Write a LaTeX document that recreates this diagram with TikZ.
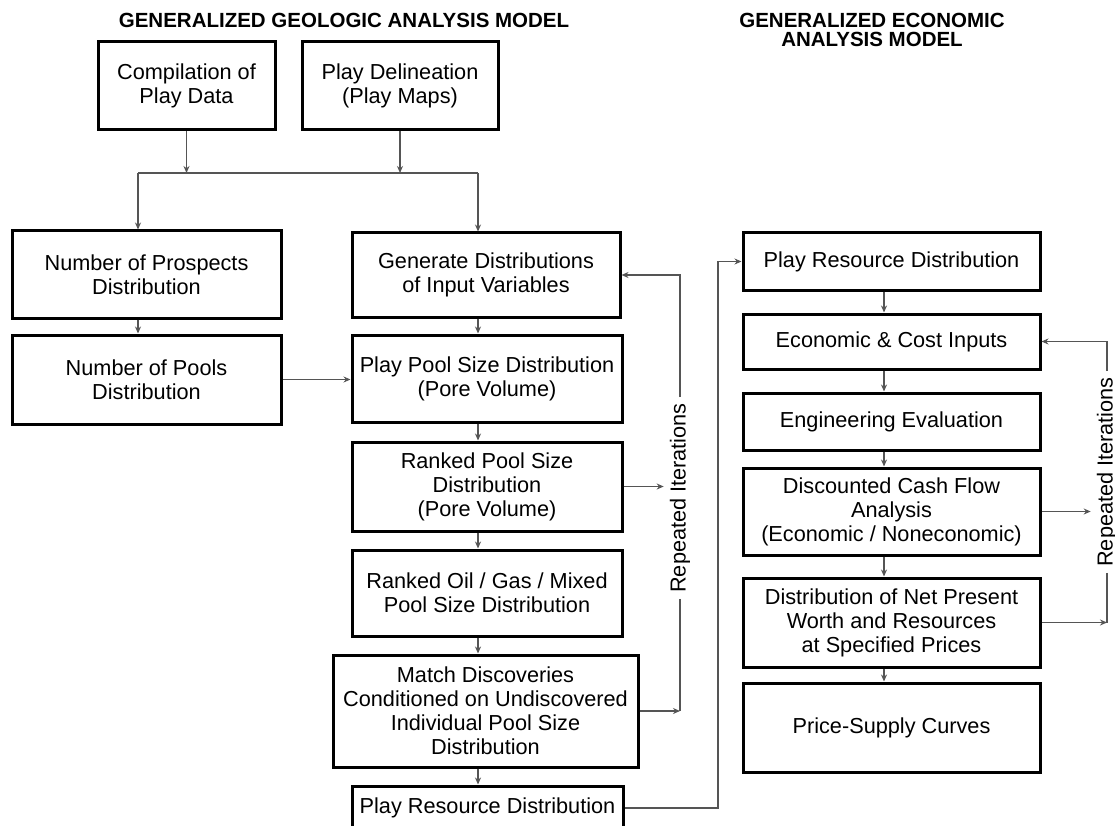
\documentclass[tikz,border=0pt]{standalone}
\usepackage{fontspec}
\setmainfont{Liberation Sans}
\usetikzlibrary{arrows.meta}
\definecolor{linkgray}{HTML}{555555}
\begin{document}
\begin{tikzpicture}[x=1pt, y=-1pt, >={Stealth[length=7pt,width=6pt]},
  box/.style={draw, rectangle, line width=3pt, align=center, inner sep=0pt, font=\fontsize{21.7}{24}\selectfont},
  head/.style={align=center, font=\fontsize{20.5}{19}\selectfont\bfseries},
  link/.style={draw=linkgray, line width=1.4pt},
  iterlabel/.style={rotate=90, inner xsep=6pt, inner ysep=2pt, font=\fontsize{21.7}{24}\selectfont}]
\useasboundingbox (0,0) rectangle (1115,826);

\node[head] (geo) at (344,20) {GENERALIZED GEOLOGIC ANALYSIS MODEL};
\node[head] (eco) at (872,30) {GENERALIZED ECONOMIC\\ANALYSIS MODEL};

\node[box, minimum width=177pt, minimum height=88pt] (comp) at (186.5,85.5) {Compilation of\\Play Data};
\node[box, minimum width=196pt, minimum height=88pt] (delin) at (400,85.5) {Play Delineation\\(Play Maps)};

\node[box, minimum width=269pt, minimum height=87pt] (prosp) at (146.5,274.5) {Number of Prospects\\Distribution};
\node[box, minimum width=269pt, minimum height=89pt] (pools) at (146.5,379.5) {Number of Pools\\Distribution};

\node[box, minimum width=268pt, minimum height=84pt] (gen) at (486,275) {Generate Distributions\\of Input Variables};
\node[box, minimum width=270pt, minimum height=87pt] (ppsd) at (487,378.5) {Play Pool Size Distribution\\(Pore Volume)};
\node[box, minimum width=270pt, minimum height=89pt] (rpsd) at (487,486.5) {Ranked Pool Size\\Distribution\\(Pore Volume)};
\node[box, minimum width=270pt, minimum height=86pt] (rogm) at (487,593) {Ranked Oil / Gas / Mixed\\Pool Size Distribution};
\node[box, minimum width=305pt, minimum height=112pt] (match) at (485.5,711) {Match Discoveries\\Conditioned on Undiscovered\\Individual Pool Size\\Distribution};
\node[box, minimum width=271pt, minimum height=44pt] (prdL) at (487.5,808) {Play Resource Distribution};

\node[box, minimum width=297pt, minimum height=57pt] (prdR) at (891.5,261.5) {Play Resource Distribution};
\node[box, minimum width=297pt, minimum height=55pt] (eci) at (891.5,341.5) {Economic \& Cost Inputs};
\node[box, minimum width=297pt, minimum height=57pt] (eng) at (891.5,421.5) {Engineering Evaluation};
\node[box, minimum width=297pt, minimum height=87pt] (dcf) at (891.5,511.5) {Discounted Cash Flow\\Analysis\\(Economic / Noneconomic)};
\node[box, minimum width=297pt, minimum height=89pt] (npw) at (891.5,622.5) {Distribution of Net Present\\Worth and Resources\\at Specified Prices};
\node[box, minimum width=297pt, minimum height=89pt] (psc) at (891.5,727.5) {Price-Supply Curves};

\node[iterlabel] (rep1) at (680,498) {Repeated Iterations};
\node[iterlabel] (rep2) at (1107,472) {Repeated Iterations};

\coordinate (colA) at (138,0);
\coordinate (colB) at (478,0);
\coordinate (colC) at (884,0);
\coordinate (jL) at (138,173);
\coordinate (jR) at (478,173);
\coordinate (riser) at (718,0);

\draw[link, ->] (comp) -- (comp |- jL);
\draw[link, ->] (delin) -- (delin |- jL);
\draw[link] (jL) -- (jR);
\draw[link, ->] (jL) -- (jL |- prosp.north);
\draw[link, ->] (jR) -- (jR |- gen.north);

\draw[link, ->] (prosp.south -| colA) -- (pools.north -| colA);
\draw[link, ->] (pools.east) -- (pools.east -| ppsd.west);

\draw[link, ->] (gen.south -| colB) -- (ppsd.north -| colB);
\draw[link, ->] (ppsd.south -| colB) -- (rpsd.north -| colB);
\draw[link, ->] (rpsd.south -| colB) -- (rogm.north -| colB);
\draw[link, ->] (rogm.south -| colB) -- (match.north -| colB);
\draw[link, ->] (match.south -| colB) -- (prdL.north -| colB);

\draw[link, ->] (rep1.east) |- (gen.east);
\draw[link] (rep1.west) -- (rep1.west |- match.east);
\draw[link, ->] (match.east) -- (match.east -| rep1);
\draw[link, ->, shorten >=4pt] (rpsd.east) -- (rpsd.east -| rep1.north);

\draw[link, ->] (prdL.east) -- (prdL.east -| riser) -- (riser |- prdR.west) -- (prdR.west);

\draw[link, ->] (prdR.south -| colC) -- (eci.north -| colC);
\draw[link, ->] (eci.south -| colC) -- (eng.north -| colC);
\draw[link, ->] (eng.south -| colC) -- (dcf.north -| colC);
\draw[link, ->] (dcf.south -| colC) -- (npw.north -| colC);
\draw[link, ->] (npw.south -| colC) -- (psc.north -| colC);

\draw[link, ->] (rep2.east) |- (eci.east);
\draw[link] (rep2.west) -- (rep2.west |- npw.east);
\draw[link, ->] (npw.east) -- (npw.east -| rep2);
\draw[link, ->, shorten >=4pt] (dcf.east) -- (dcf.east -| rep2.north);
\end{tikzpicture}
\end{document}
